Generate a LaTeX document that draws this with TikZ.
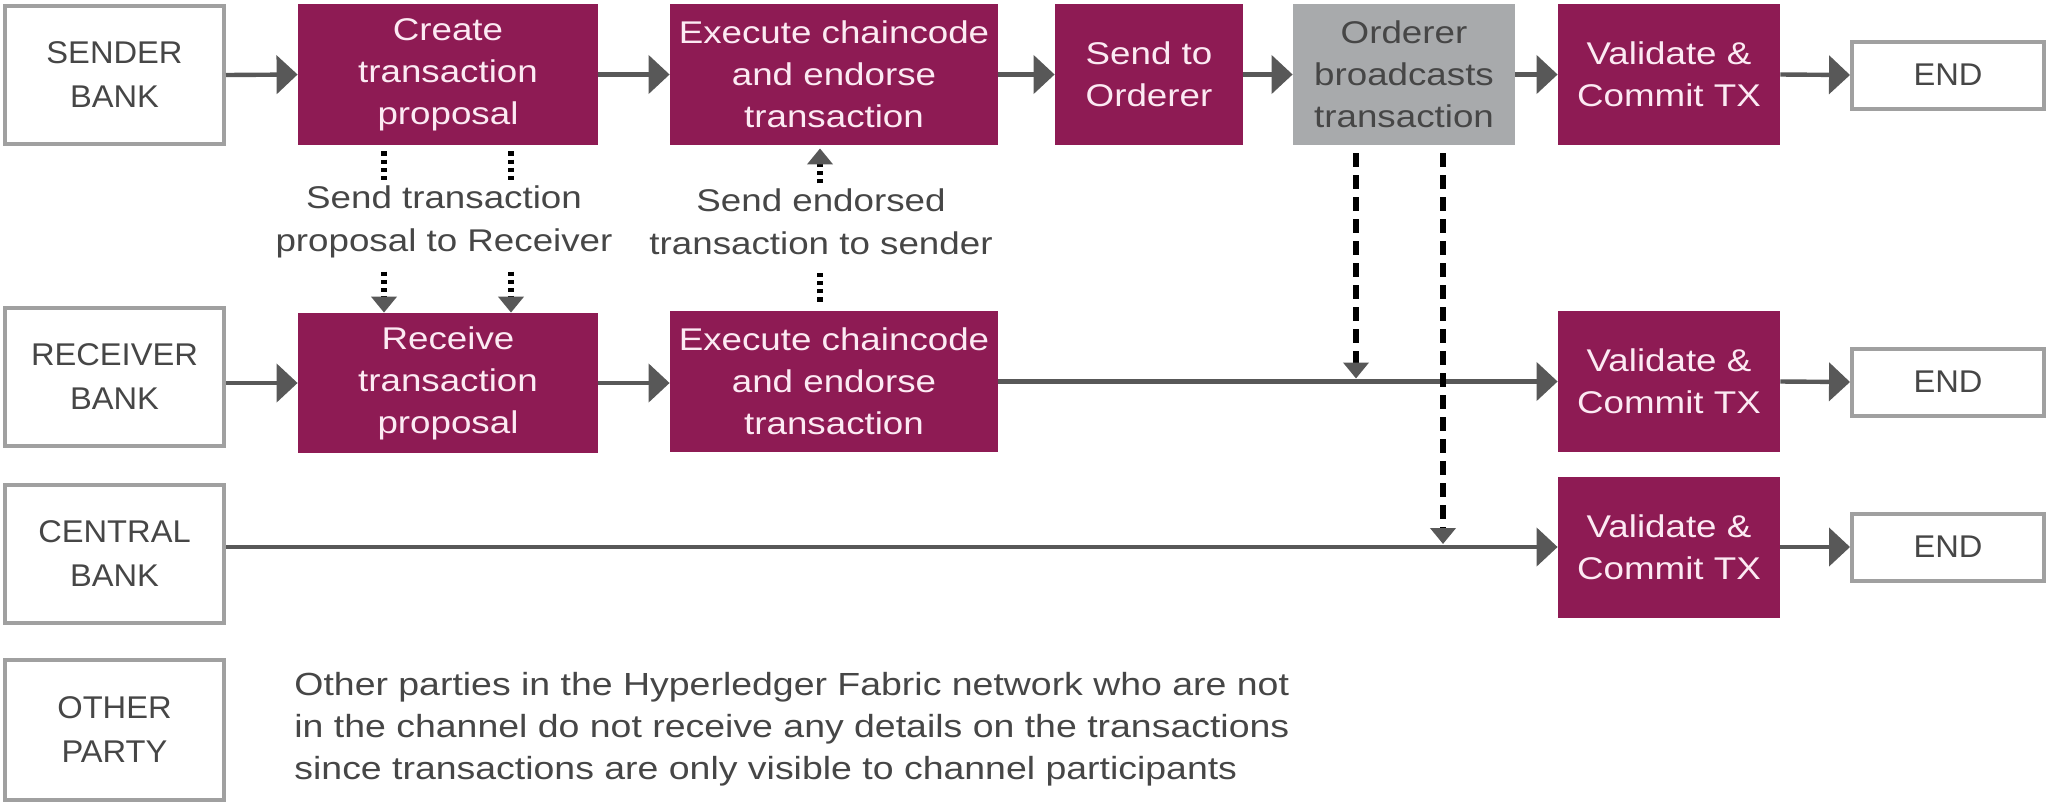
\documentclass[tikz,border=0pt]{standalone}
\usepackage{fontspec}
\setmainfont[FakeStretch=1.17]{Liberation Sans}
\newfontfamily\capsfont[FakeStretch=1.04]{Liberation Sans}
\usetikzlibrary{arrows.meta,calc}

\definecolor{berry}{RGB}{142,27,84}
\definecolor{ordergray}{RGB}{168,170,172}
\definecolor{edgegray}{RGB}{160,160,160}
\definecolor{inkgray}{RGB}{70,70,70}
\definecolor{flowgray}{RGB}{88,88,88}
\definecolor{paletext}{RGB}{252,234,243}

\begin{document}
\begin{tikzpicture}[x=0.5pt,y=-0.5pt,
  txt/.style={font=\fontsize{15.7}{21}\selectfont, align=center, inner sep=0pt},
  party/.style={txt, font=\capsfont\fontsize{15.7}{22}\selectfont, draw=edgegray,
    line width=2pt, fill=white, text=inkgray, minimum width=109.5pt, minimum height=69pt},
  stepbox/.style={txt, fill=berry, text=paletext, minimum height=70.5pt},
  ordbox/.style={txt, fill=ordergray, text=inkgray, minimum height=70.5pt},
  endbox/.style={party, minimum width=96pt, minimum height=33.5pt},
  flow/.style={draw=flowgray, line width=2.2pt, -{Triangle[length=10.5pt,width=19pt]}},
  dotlink/.style={draw=black, line width=2.8pt, dash pattern=on 2.2pt off 1.9pt},
  dashlink/.style={draw=black, line width=3pt, dash pattern=on 7pt off 4pt},
  smalltip/.style={-{Triangle[length=8pt,width=12.5pt,color=flowgray]}},
  note/.style={txt, text=inkgray, font=\fontsize{15.7}{21.5}\selectfont},
  remarkstyle/.style={txt, text=inkgray, font=\fontsize{16}{21}\selectfont}
]
\useasboundingbox (0,0) rectangle (2048,805);

% sender bank row
\node[party] (sender) at (114.5,75) {SENDER\\BANK};
\node[stepbox, minimum width=150pt] (create) at (448,74.5) {Create\\transaction\\proposal};
\node[stepbox, minimum width=164pt] (exec1) at (834,74.5) {Execute chaincode\\and endorse\\transaction};
\node[stepbox, minimum width=94pt] (send) at (1149,74.5) {Send to\\Orderer};
\node[ordbox, minimum width=111pt] (orderer) at (1404,74.5) {Orderer\\broadcasts\\transaction};
\node[stepbox, minimum width=111pt] (val1) at (1669,74.5) {Validate \&\\Commit TX};
\node[endbox] (end1) at (1948,75) {END};

% receiver bank row
\node[party] (receiver) at (114.5,377) {RECEIVER\\BANK};
\node[stepbox, minimum width=150pt, minimum height=70pt] (receive) at (448,383) {Receive\\transaction\\proposal};
\node[stepbox, minimum width=164pt] (exec2) at (834,381.5) {Execute chaincode\\and endorse\\transaction};
\node[stepbox, minimum width=111pt] (val2) at (1669,381.5) {Validate \&\\Commit TX};
\node[endbox] (end2) at (1948,382) {END};

% central bank row
\node[party] (central) at (114.5,554) {CENTRAL\\BANK};
\node[stepbox, minimum width=111pt] (val3) at (1669,547) {Validate \&\\Commit TX};
\node[endbox] (end3) at (1948,547) {END};

% other party row
\node[party, minimum height=70pt] (other) at (114.5,730) {OTHER\\PARTY};
\node[remarkstyle, anchor=west, align=left] (remark) at (294,729)
  {Other parties in the Hyperledger Fabric network who are not\\
   in the channel do not receive any details on the transactions\\
   since transactions are only visible to channel participants};

% message labels
\node[note] (proplbl) at (444,222) {Send transaction\\proposal to Receiver};
\node[note] (endlbl) at (821,222) {Send endorsed\\transaction to sender};

% main flows
\draw[flow] (sender.east) -- (create.west);
\draw[flow] (create.east) -- (exec1.west);
\draw[flow] (exec1.east) -- (send.west);
\draw[flow] (send.east) -- (orderer.west);
\draw[flow] (orderer.east) -- (val1.west);
\draw[flow] (val1.east) -- (end1.west);

\draw[flow] (receiver.east |- receive.west) -- (receive.west);
\draw[flow] (receive.east) -- (receive.east -| exec2.west);
\draw[flow] (exec2.east) -- (val2.west);
\draw[flow] (val2.east) -- (end2.west);

\draw[flow] (central.east |- val3.west) -- (val3.west);
\draw[flow] (val3.east) -- (end3.west);

% message links
\coordinate (pA) at (384,0);
\coordinate (pB) at (511,0);
\coordinate (pE) at (820,0);
\coordinate (pO) at (1356,0);
\coordinate (pP) at (1443,0);

\draw[dotlink] ($(create.south -| pA)+(0,6)$) -- ++(0,32);
\draw[dotlink] ($(create.south -| pB)+(0,6)$) -- ++(0,32);
\draw[dotlink, smalltip] ($(receive.north -| pA)+(0,-41)$) -- (receive.north -| pA);
\draw[dotlink, smalltip] ($(receive.north -| pB)+(0,-41)$) -- (receive.north -| pB);

\draw[dotlink] ($(exec2.north -| pE)+(0,-9)$) -- ++(0,-32);
\draw[dotlink, smalltip] ($(exec1.south -| pE)+(0,38)$) -- ($(exec1.south -| pE)+(0,3)$);

\draw[dashlink, smalltip] ($(orderer.south -| pO)+(0,8)$) -- ($(val2.west -| pO)+(0,-3)$);
\draw[dashlink, smalltip] ($(orderer.south -| pP)+(0,8)$) -- ($(val3.west -| pP)+(0,-3)$);
\end{tikzpicture}
\end{document}
